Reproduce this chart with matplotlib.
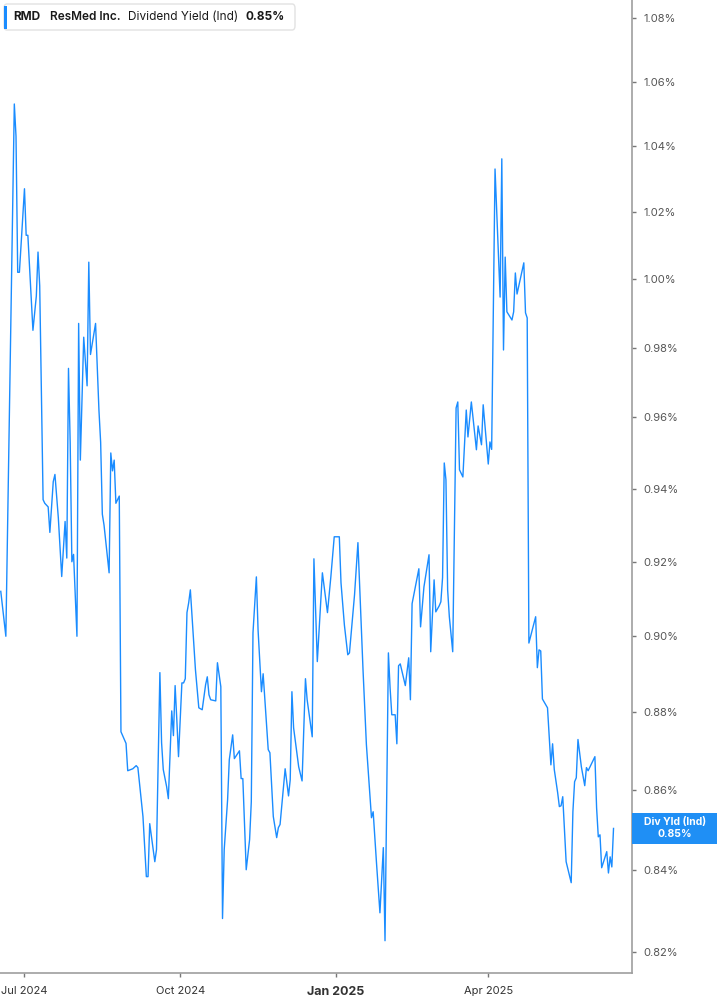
import matplotlib
matplotlib.use('Agg')
import matplotlib.pyplot as plt
from matplotlib.patches import Rectangle, FancyBboxPatch
from matplotlib.ticker import NullLocator, NullFormatter
import pandas as pd

plt.rcParams['font.family'] = ['Inter', 'DejaVu Sans']

# RMD dividend yield (Ind), %
dates = [
    '2024-06-17', '2024-06-19', '2024-06-20', '2024-06-25', '2024-06-26', '2024-06-27', '2024-06-28',
    '2024-07-01', '2024-07-02', '2024-07-03', '2024-07-06', '2024-07-07', '2024-07-08', '2024-07-09',
    '2024-07-10', '2024-07-12', '2024-07-13', '2024-07-15', '2024-07-16', '2024-07-18', '2024-07-19',
    '2024-07-21', '2024-07-23', '2024-07-25', '2024-07-26', '2024-07-27', '2024-07-28', '2024-07-29',
    '2024-07-30',
    '2024-08-01', '2024-08-02', '2024-08-03', '2024-08-05', '2024-08-07', '2024-08-08', '2024-08-09',
    '2024-08-12', '2024-08-14', '2024-08-15', '2024-08-16', '2024-08-17', '2024-08-20', '2024-08-21',
    '2024-08-22', '2024-08-23', '2024-08-24', '2024-08-26', '2024-08-27', '2024-08-30', '2024-08-31',
    '2024-09-03', '2024-09-05', '2024-09-06', '2024-09-09', '2024-09-11', '2024-09-12', '2024-09-13',
    '2024-09-16', '2024-09-17', '2024-09-19', '2024-09-20', '2024-09-21', '2024-09-23', '2024-09-24',
    '2024-09-26', '2024-09-27', '2024-09-28', '2024-09-29', '2024-09-30',
    '2024-10-02', '2024-10-03', '2024-10-04', '2024-10-05', '2024-10-06', '2024-10-07', '2024-10-09',
    '2024-10-10', '2024-10-12', '2024-10-14', '2024-10-16', '2024-10-17', '2024-10-18', '2024-10-19',
    '2024-10-22', '2024-10-23', '2024-10-25', '2024-10-26', '2024-10-27', '2024-10-29', '2024-10-30',
    '2024-11-01', '2024-11-02', '2024-11-05', '2024-11-06', '2024-11-07', '2024-11-09', '2024-11-11',
    '2024-11-12', '2024-11-13', '2024-11-15', '2024-11-16', '2024-11-18', '2024-11-19', '2024-11-22',
    '2024-11-23', '2024-11-25', '2024-11-27', '2024-11-28', '2024-11-29',
    '2024-12-02', '2024-12-04', '2024-12-05', '2024-12-06', '2024-12-07', '2024-12-10', '2024-12-12',
    '2024-12-14', '2024-12-15', '2024-12-18', '2024-12-19', '2024-12-21', '2024-12-24', '2024-12-27',
    '2024-12-29', '2024-12-31',
    '2025-01-03', '2025-01-04', '2025-01-06', '2025-01-08', '2025-01-09', '2025-01-12', '2025-01-14',
    '2025-01-17', '2025-01-19', '2025-01-22', '2025-01-23', '2025-01-25', '2025-01-27', '2025-01-29',
    '2025-01-30',
    '2025-02-01', '2025-02-02', '2025-02-03', '2025-02-05', '2025-02-06', '2025-02-07', '2025-02-08',
    '2025-02-11', '2025-02-13', '2025-02-14', '2025-02-15', '2025-02-19', '2025-02-20', '2025-02-22',
    '2025-02-25', '2025-02-26', '2025-02-28',
    '2025-03-01', '2025-03-03', '2025-03-04', '2025-03-05', '2025-03-06', '2025-03-07', '2025-03-08',
    '2025-03-09', '2025-03-11', '2025-03-13', '2025-03-14', '2025-03-15', '2025-03-17', '2025-03-19',
    '2025-03-20', '2025-03-22', '2025-03-25', '2025-03-26', '2025-03-28', '2025-03-29',
    '2025-04-01', '2025-04-02', '2025-04-03', '2025-04-05', '2025-04-08', '2025-04-09', '2025-04-10',
    '2025-04-11', '2025-04-12', '2025-04-15', '2025-04-16', '2025-04-17', '2025-04-18', '2025-04-22',
    '2025-04-23', '2025-04-24', '2025-04-25', '2025-04-29', '2025-04-30',
    '2025-05-01', '2025-05-02', '2025-05-03', '2025-05-06', '2025-05-08', '2025-05-09', '2025-05-10',
    '2025-05-12', '2025-05-13', '2025-05-14', '2025-05-15', '2025-05-17', '2025-05-20', '2025-05-21',
    '2025-05-22', '2025-05-23', '2025-05-24', '2025-05-26', '2025-05-28', '2025-05-29', '2025-05-30',
    '2025-06-03', '2025-06-04', '2025-06-05', '2025-06-06', '2025-06-07', '2025-06-10', '2025-06-11',
    '2025-06-12', '2025-06-13', '2025-06-14',
]
yields = [
    0.912, 0.904, 0.900, 1.053, 1.043, 1.002, 1.002,
    1.027, 1.013, 1.013, 0.985, 0.990, 0.995, 1.008,
    0.998, 0.937, 0.936, 0.935, 0.928, 0.942, 0.944,
    0.932, 0.916, 0.931, 0.921, 0.974, 0.953, 0.920,
    0.922,
    0.900, 0.987, 0.948, 0.983, 0.969, 1.005, 0.978,
    0.987, 0.962, 0.953, 0.933, 0.930, 0.917, 0.950,
    0.945, 0.948, 0.936, 0.938, 0.875, 0.872, 0.865,
    0.8655, 0.8663, 0.8658, 0.8534, 0.8384, 0.8384, 0.8516,
    0.8421, 0.8451, 0.8904, 0.8722, 0.8653, 0.8609, 0.8579,
    0.8804, 0.874, 0.887, 0.8781, 0.8686,
    0.8877, 0.8877, 0.8888, 0.9063, 0.9089, 0.9124, 0.8982,
    0.8912, 0.8812, 0.8807, 0.8872, 0.8893, 0.8846, 0.8833,
    0.883, 0.893, 0.8867, 0.8281, 0.8451, 0.8576, 0.8678,
    0.8742, 0.8681, 0.8701, 0.863, 0.863, 0.8401, 0.8476,
    0.8571, 0.9009, 0.9159, 0.9017, 0.8854, 0.8901, 0.8704,
    0.8696, 0.8534, 0.8481, 0.8506, 0.8514,
    0.8655, 0.8586, 0.8627, 0.8854, 0.876, 0.866, 0.8624,
    0.8888, 0.8833, 0.8737, 0.9208, 0.8933, 0.917, 0.9063,
    0.9159, 0.9268,
    0.9268, 0.9143, 0.903, 0.8951, 0.8956, 0.9111, 0.9252,
    0.8912, 0.8717, 0.8531, 0.8546, 0.8416, 0.8295, 0.8456,
    0.8227,
    0.8956, 0.8864, 0.8794, 0.8794, 0.8719, 0.8922, 0.8927,
    0.887, 0.8943, 0.8833, 0.9087, 0.9181, 0.9025, 0.9132,
    0.9219, 0.8959, 0.9151,
    0.9065, 0.9081, 0.9092, 0.9157, 0.9472, 0.9425, 0.9124,
    0.9052, 0.8959, 0.9627, 0.9644, 0.9453, 0.9433, 0.9621,
    0.9545, 0.9644, 0.9509, 0.9576, 0.9523, 0.9636,
    0.9469, 0.9531, 0.951, 1.033, 0.9947, 1.0361, 0.9793,
    1.0065, 0.9904, 0.988, 0.9904, 1.0018, 0.9956, 1.0048,
    0.9901, 0.9886, 0.8982, 0.9052, 0.8917,
    0.8964, 0.8961, 0.8835, 0.8812, 0.8665, 0.8719, 0.8653,
    0.8594, 0.8559, 0.8561, 0.8584, 0.8421, 0.8369, 0.8546,
    0.8622, 0.8632, 0.873, 0.866, 0.8612, 0.8658, 0.865,
    0.8686, 0.8556, 0.8483, 0.8488, 0.8406, 0.8446, 0.8393,
    0.8433, 0.8408, 0.8504,
]

ytick_vals = [0.82, 0.84, 0.86, 0.88, 0.90, 0.92, 0.94, 0.96, 0.98, 1.00, 1.02, 1.04, 1.06, 1.08]
xtick_dates = ['2024-07-01', '2024-10-01', '2025-01-01', '2025-04-01']
xtick_labels = ['Jul 2024', 'Oct 2024', 'Jan 2025', 'Apr 2025']

LINE = '#1a8cff'
BOX = '#1f8ff5'
W, H = 717, 1005

def fx(x):
    return x / W

def fy(y):
    return 1 - y / H

fig = plt.figure(figsize=(W / 100, H / 100), dpi=100)
ax = fig.add_axes([0, fy(973), fx(632), 973 / H])

ax.plot(pd.to_datetime(dates), yields, color=LINE, lw=1.0)

ax.set_yscale('log')
ax.set_ylim(0.8149, 1.0858)
ax.set_xlim(pd.Timestamp('2024-06-16 13:00'), pd.Timestamp('2025-06-24 22:00'))

ax.yaxis.tick_right()
ax.set_yticks(ytick_vals)
ax.set_yticklabels(['%.2f%%' % v for v in ytick_vals])
ax.yaxis.set_minor_locator(NullLocator())
ax.yaxis.set_minor_formatter(NullFormatter())
ax.tick_params(axis='y', length=3, width=1, color='#777777', labelcolor='#555555',
               labelsize=8, pad=5)

ax.set_xticks(pd.to_datetime(xtick_dates))
ax.set_xticklabels(xtick_labels)
ax.tick_params(axis='x', length=3, width=1, color='#777777', labelcolor='#333333',
               labelsize=8, pad=6)
jan = ax.get_xticklabels()[2]
jan.set_fontweight('bold')
jan.set_fontsize(9)

for s in ['top', 'left']:
    ax.spines[s].set_visible(False)
for s in ['right', 'bottom']:
    ax.spines[s].set_color('#9e9e9e')
    ax.spines[s].set_linewidth(1.2)

# legend box, top left
fig.patches.append(FancyBboxPatch((fx(4), fy(30)), fx(291), 26 / H,
                                  boxstyle='round,pad=0,rounding_size=0.004',
                                  transform=fig.transFigure, fc='white', ec='#e2e2e2', lw=1))
fig.patches.append(Rectangle((fx(4), fy(29)), fx(3), 23 / H, transform=fig.transFigure,
                             fc=LINE, ec='none'))
fig.text(fx(13), fy(17), 'RMD', weight='bold', size=8.5, color='#1a1a1a', va='center')
fig.text(fx(50), fy(17), 'ResMed Inc.', weight='semibold', size=8.5, color='#1a1a1a', va='center')
fig.text(fx(128), fy(17), 'Dividend Yield (Ind)', size=8.5, color='#1a1a1a', va='center')
fig.text(fx(246), fy(17), '%.2f%%' % yields[-1], weight='bold', size=8.5, color='#1a1a1a',
         va='center')

# last value box on the right axis
y_disp = ax.transData.transform((0, yields[-1]))[1]
y_fig = fig.transFigure.inverted().transform((0, y_disp))[1]
fig.patches.append(Rectangle((fx(632), y_fig - 15.5 / H), 1 - fx(632), 31 / H,
                             transform=fig.transFigure, fc=BOX, ec='none'))
fig.text(fx(675), y_fig + 6 / H, 'Div Yld (Ind)', weight='bold', size=7.5, color='white',
         ha='center', va='center')
fig.text(fx(675), y_fig - 6 / H, '%.2f%%' % yields[-1], weight='bold', size=7.5, color='white',
         ha='center', va='center')

fig.savefig('out.png', dpi=100)
